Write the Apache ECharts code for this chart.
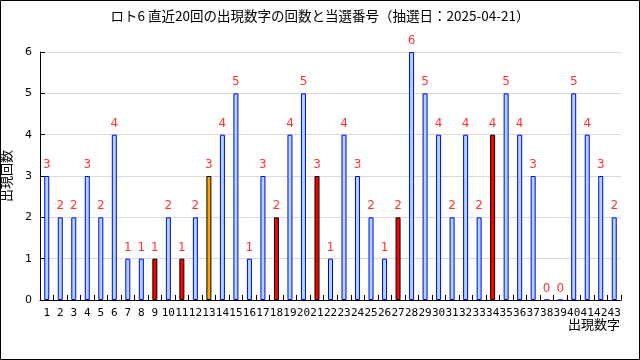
<!DOCTYPE html>
<html><head><meta charset="utf-8">
<script src="https://cdn.jsdelivr.net/npm/echarts@6/dist/echarts.min.js"></script>
<style>html,body{margin:0;padding:0;background:#fff}#c{width:640px;height:360px}</style>
</head><body><div id="c"></div>
<script>
const titleText = 'ロト6 直近20回の出現数字の回数と当選番号（抽選日：2025-04-21）';
const numbers = Array.from({length:43},(_, i)=>String(i+1));
const counts = [3,2,2,3,2,4,1,1,1,2, 1,2,3,4,5,1,3,2,4,5, 3,1,4,3,2,1,2,6,5,4, 2,4,2,4,5,4,3,0,0,5, 4,3,2];
const winning = [9,11,18,21,27,34];
const bonus = [13];
const yTicks = [0,1,2,3,4,5,6];

const data = counts.map((v,i)=>{
  const n = i+1;
  let style = {color:'#add8e6', borderColor:'#0000ff', borderWidth:1};
  if (winning.includes(n)) style = {color:'#ff0000', borderColor:'#000000', borderWidth:1};
  else if (bonus.includes(n)) style = {color:'#ffa500', borderColor:'#000000', borderWidth:1};
  return {value:v, itemStyle:style};
});

const chart = echarts.init(document.getElementById('c'), null, {renderer:'canvas'});
chart.setOption({
  animation:false,
  backgroundColor:'#fff',
  title:{text:titleText, left:'center', top:4,
    textStyle:{fontFamily:'Noto Sans CJK JP', fontSize:13.5, fontWeight:'normal', color:'#000'}},
  grid:{left:40, right:19, top:52, bottom:60, containLabel:false, outerBoundsMode:'none'},
  xAxis:{type:'category', data:numbers,
    axisLine:{lineStyle:{color:'#000', width:1}},
    axisTick:{show:true, inside:true, length:5, alignWithLabel:false, lineStyle:{color:'#000'}},
    axisLabel:{interval:0, margin:8, color:'#000', fontFamily:'DejaVu Sans Mono', fontSize:11},
    splitLine:{show:false}},
  yAxis:{type:'value', min:yTicks[0], max:yTicks[yTicks.length-1], interval:1,
    name:'出現回数', nameLocation:'middle', nameRotate:90, nameGap:27,
    nameTextStyle:{fontFamily:'Noto Sans CJK JP', fontSize:13, color:'#000'},
    axisLine:{show:true, lineStyle:{color:'#000', width:1}},
    axisTick:{show:true, inside:true, length:5, lineStyle:{color:'#000'}},
    axisLabel:{margin:8, color:'#000', fontFamily:'DejaVu Sans', fontSize:11},
    splitLine:{show:true, lineStyle:{color:'#d9d9d9', width:1}}},
  series:[{type:'bar', data:data, barWidth:5,
    label:{show:true, position:'top', distance:5, color:'#ff3333', fontSize:12, fontFamily:'DejaVu Sans'}}],
  graphic:[
    {type:'rect', shape:{x:0.5,y:0.5,width:639,height:359}, style:{fill:'none', stroke:'#000', lineWidth:1}, silent:true},
    {type:'text', right:20, top:318, style:{text:'出現数字', font:'13px "Noto Sans CJK JP"', fill:'#000'}}
  ]
});
</script></body></html>
